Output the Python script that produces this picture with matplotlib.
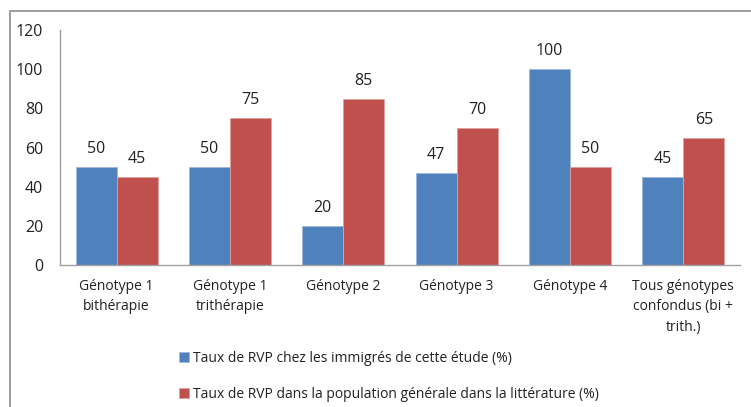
import matplotlib
matplotlib.use("Agg")
import matplotlib.pyplot as plt
import numpy as np
from matplotlib.patches import Rectangle

categories = ["Génotype 1\nbithérapie", "Génotype 1\ntrithérapie", "Génotype 2",
              "Génotype 3", "Génotype 4", "Tous génotypes\nconfondus (bi +\ntrith.)"]
immigres = [50, 50, 20, 47, 100, 45]
litterature = [45, 75, 85, 70, 50, 65]
series_names = ["Taux de RVP chez les immigrés de cette étude (%)",
                "Taux de RVP dans la population générale dans la littérature (%)"]
yticks = [0, 20, 40, 60, 80, 100, 120]

plt.rcParams['font.family'] = ['Open Sans', 'DejaVu Sans']

blue = "#4F81BD"
red = "#C0504D"

fig = plt.figure(figsize=(7.51, 4.07), dpi=100)
W, H = 751, 407
ax = fig.add_axes([60 / W, 1 - 265 / H, 680 / W, 235 / H])

x = np.arange(len(categories))
w = 0.362
b1 = ax.bar(x - w / 2, immigres, w, color=blue, edgecolor='#9db9dc', linewidth=0.6, label=series_names[0])
b2 = ax.bar(x + w / 2, litterature, w, color=red, edgecolor='#e0a09e', linewidth=0.6, label=series_names[1])

for bars in (b1, b2):
    for r in bars:
        ax.annotate(f"{int(r.get_height())}", (r.get_x() + r.get_width() / 2, r.get_height()),
                    xytext=(0, 7), textcoords='offset points', ha='center', va='bottom',
                    fontsize=11.5, color='#222222')

ax.set_xlim(-0.5, len(categories) - 0.5)
ax.set_ylim(0, 120)
ax.set_yticks(yticks)
ax.set_xticks(x)
ax.set_xticklabels(categories, fontsize=10, color='#222222', linespacing=1.5, va='top')
ax.tick_params(axis='y', length=0, labelsize=11.5, colors='#222222', pad=12)
ax.tick_params(axis='x', length=0, pad=10)
for s in ('top', 'right'):
    ax.spines[s].set_visible(False)
for s in ('left', 'bottom'):
    ax.spines[s].set_color('#a0a0a0')
    ax.spines[s].set_linewidth(1.0)

# outer frame
fig.patches.append(Rectangle((10 / W, -0.1), 1.2, 1 - 11 / H + 0.1, transform=fig.transFigure,
                             fill=False, edgecolor='#8c8c8c', linewidth=1.2))

leg = fig.legend(handles=[b1, b2], labels=series_names, loc='upper left',
                 bbox_to_anchor=(172 / W, 1 - 344 / H), frameon=False,
                 fontsize=10, handlelength=0.7, handleheight=0.7, handletextpad=0.3,
                 labelspacing=1.5, borderpad=0)
for t in leg.get_texts():
    t.set_color('#222222')

fig.savefig("out.png", dpi=100)
